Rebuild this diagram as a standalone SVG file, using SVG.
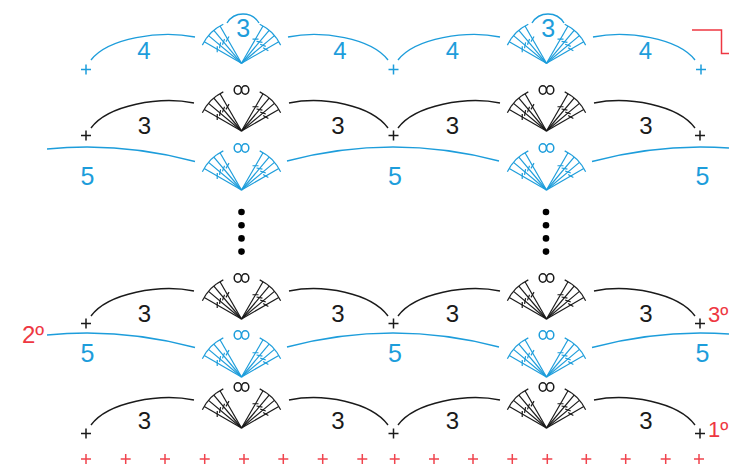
<svg xmlns="http://www.w3.org/2000/svg" xmlns:xlink="http://www.w3.org/1999/xlink" width="729" height="467" viewBox="0 0 729 467">
<style>
.blue{stroke:#1d9ddb;fill:#1d9ddb;color:#1d9ddb}
.black{stroke:#1a1a1a;fill:#1a1a1a;color:#1a1a1a}
.st{fill:none;stroke-width:1.2}
.arc{fill:none;stroke-width:1.4}
.ch{fill:none;stroke-width:1.5}
.pl{fill:none;stroke-width:1.5}
.redpl{fill:none;stroke:#f0444e;stroke-width:1.5}
.num{font-family:"Liberation Sans",Arial,sans-serif;font-size:24px;text-anchor:middle;stroke:none}
.red{font-family:"Liberation Sans",Arial,sans-serif;font-size:22px;fill:#ee3742;stroke:none}
.dot{fill:#000;stroke:none}
</style>
<defs>
<g id="dc">
<line x1="0" y1="0" x2="0" y2="-43"/>
<line x1="-3.8" y1="-43" x2="3.8" y2="-43"/>
<line x1="-2.6" y1="-26.5" x2="2.6" y2="-29.5"/>
</g>
<g id="fan" class="st">
<use href="#dc" transform="rotate(-60)"/>
<use href="#dc" transform="rotate(-50)"/>
<use href="#dc" transform="rotate(-40)"/>
<use href="#dc" transform="rotate(-30)"/>
<use href="#dc" transform="rotate(30)"/>
<use href="#dc" transform="rotate(40)"/>
<use href="#dc" transform="rotate(50)"/>
<use href="#dc" transform="rotate(60)"/>
</g>
<g id="ch2" class="ch">
<ellipse cx="-3.7" cy="0" rx="3.6" ry="4.2"/>
<ellipse cx="3.7" cy="0" rx="3.6" ry="4.2"/>
</g>
<path id="plus" d="M-5,0H5M0,-5V5"/>
</defs>

<g id="connectors">
<g class="blue arc">
<path d="M91,60 C108,38 160,30 195,37"/>
<path d="M288,37 C322,30 371,38 388,60"/>
<path d="M398,60 C415,38 467,30 500,37"/>
<path d="M593,37 C627,30 678,38 695,60"/>
</g>
<g class="black arc">
<path d="M91,128 C108,105 160,96 194,103"/>
<path d="M289,103 C323,96 371,105 388,128"/>
<path d="M398,128 C415,105 467,96 500,103"/>
<path d="M594,103 C628,96 678,105 695,128"/>
</g>
<g class="blue arc">
<path d="M47,149 Q121,141.6 195,161.5"/>
<path d="M287,161 Q393,133 499,161"/>
<path d="M592,161.5 Q660.5,143.1 729,148"/>
</g>
<g class="black arc" transform="translate(0,188)">
<path d="M91,128 C108,105 160,96 194,103"/>
<path d="M289,103 C323,96 371,105 388,128"/>
<path d="M398,128 C415,105 467,96 500,103"/>
<path d="M594,103 C628,96 678,105 695,128"/>
</g>
<g class="blue arc" transform="translate(0,186)">
<path d="M47,149 Q121,141.6 195,161.5"/>
<path d="M287,161 Q393,133 499,161"/>
<path d="M592,161.5 Q660.5,143.1 729,148"/>
</g>
<g class="black arc" transform="translate(0,297)">
<path d="M91,128 C108,105 160,96 194,103"/>
<path d="M289,103 C323,96 371,105 388,128"/>
<path d="M398,128 C415,105 467,96 500,103"/>
<path d="M594,103 C628,96 678,105 695,128"/>
</g>
</g>

<!-- Row top blue -->
<g id="row-top" class="blue">
<use href="#plus" x="86" y="69.5" class="pl"/>
<use href="#plus" x="393.5" y="69.5" class="pl"/>
<use href="#plus" x="701" y="69.5" class="pl"/>
<g id="fan-top-1" transform="translate(241.5,63.3)">
<use href="#fan"/>
<path class="arc" d="M-14.5,-40.3 A18.7,18.7 0 0 1 17.5,-40.3"/>
<text class="num" x="1.8" y="-26.3" style="font-size:25px">3</text>
</g>
<g id="fan-top-2" transform="translate(546.5,63.3)">
<use href="#fan"/>
<path class="arc" d="M-14.5,-40.3 A18.7,18.7 0 0 1 17.5,-40.3"/>
<text class="num" x="1.8" y="-26.3" style="font-size:25px">3</text>
</g>
<text class="num" x="144" y="59">4</text>
<text class="num" x="340" y="59">4</text>
<text class="num" x="452.5" y="59">4</text>
<text class="num" x="645.5" y="59">4</text>
</g>

<!-- Row B black -->
<g id="row-b" class="black">
<use href="#plus" x="86" y="135.5" class="pl"/>
<use href="#plus" x="393.5" y="135.5" class="pl"/>
<use href="#plus" x="700" y="135.5" class="pl"/>
<g id="fan-b-1" transform="translate(241.5,131)"><use href="#fan"/><use href="#ch2" y="-41"/></g>
<g id="fan-b-2" transform="translate(546.5,131)"><use href="#fan"/><use href="#ch2" y="-41"/></g>
<text class="num" x="144.5" y="133.5">3</text>
<text class="num" x="338" y="133.5">3</text>
<text class="num" x="452.5" y="133.5">3</text>
<text class="num" x="646" y="133.5">3</text>
</g>

<!-- Row C blue -->
<g id="row-c" class="blue">
<g id="fan-c-1" transform="translate(241.5,190)"><use href="#fan"/><use href="#ch2" y="-42"/></g>
<g id="fan-c-2" transform="translate(546.5,190)"><use href="#fan"/><use href="#ch2" y="-42"/></g>
<text class="num" x="87.5" y="185" style="font-size:25px">5</text>
<text class="num" x="395" y="185" style="font-size:25px">5</text>
<text class="num" x="702.5" y="185" style="font-size:25px">5</text>
</g>

<g id="ellipsis-1">
<circle class="dot" cx="241.5" cy="212" r="3.3"/>
<circle class="dot" cx="241.5" cy="225.2" r="3.3"/>
<circle class="dot" cx="241.5" cy="238.4" r="3.3"/>
<circle class="dot" cx="241.5" cy="251.6" r="3.3"/>
</g>
<g id="ellipsis-2">
<circle class="dot" cx="546" cy="212" r="3.3"/>
<circle class="dot" cx="546" cy="225.2" r="3.3"/>
<circle class="dot" cx="546" cy="238.4" r="3.3"/>
<circle class="dot" cx="546" cy="251.6" r="3.3"/>
</g>

<!-- Row D black -->
<g id="row-d" class="black">
<use href="#plus" x="86" y="323.5" class="pl"/>
<use href="#plus" x="393.5" y="323.5" class="pl"/>
<use href="#plus" x="700" y="323.5" class="pl"/>
<g id="fan-d-1" transform="translate(241.5,319)"><use href="#fan"/><use href="#ch2" y="-41"/></g>
<g id="fan-d-2" transform="translate(546.5,319)"><use href="#fan"/><use href="#ch2" y="-41"/></g>
<text class="num" x="144.5" y="321.5">3</text>
<text class="num" x="338" y="321.5">3</text>
<text class="num" x="452.5" y="321.5">3</text>
<text class="num" x="646" y="321.5">3</text>
</g>

<!-- Row E blue -->
<g id="row-e" class="blue">
<g id="fan-e-1" transform="translate(241.5,377)"><use href="#fan"/><use href="#ch2" y="-42"/></g>
<g id="fan-e-2" transform="translate(546.5,377)"><use href="#fan"/><use href="#ch2" y="-42"/></g>
<text class="num" x="87.5" y="362" style="font-size:25px">5</text>
<text class="num" x="395" y="362" style="font-size:25px">5</text>
<text class="num" x="702.5" y="362" style="font-size:25px">5</text>
</g>

<!-- Row F black -->
<g id="row-f" class="black">
<use href="#plus" x="86" y="433.5" class="pl"/>
<use href="#plus" x="393.5" y="433.5" class="pl"/>
<use href="#plus" x="700" y="433.5" class="pl"/>
<g id="fan-f-1" transform="translate(241.5,428)"><use href="#fan"/><use href="#ch2" y="-41"/></g>
<g id="fan-f-2" transform="translate(546.5,428)"><use href="#fan"/><use href="#ch2" y="-41"/></g>
<text class="num" x="144.5" y="428.5">3</text>
<text class="num" x="338" y="428.5">3</text>
<text class="num" x="452.5" y="428.5">3</text>
<text class="num" x="646" y="428.5">3</text>
</g>

<!-- Foundation row -->
<g id="foundation" class="redpl">
<use href="#plus" x="86" y="459"/>
<use href="#plus" x="125.7" y="459"/>
<use href="#plus" x="165" y="459"/>
<use href="#plus" x="204.7" y="459"/>
<use href="#plus" x="244" y="459"/>
<use href="#plus" x="283.3" y="459"/>
<use href="#plus" x="322.7" y="459"/>
<use href="#plus" x="362.3" y="459"/>
<use href="#plus" x="394.7" y="459"/>
<use href="#plus" x="434" y="459"/>
<use href="#plus" x="473" y="459"/>
<use href="#plus" x="512.3" y="459"/>
<use href="#plus" x="547.3" y="459"/>
<use href="#plus" x="586.3" y="459"/>
<use href="#plus" x="625.7" y="459"/>
<use href="#plus" x="665.7" y="459"/>
<use href="#plus" x="699" y="459"/>
</g>

<g id="labels">
<text class="red" x="22" y="343" style="font-size:24px">2º</text>
<text class="red" x="708" y="322">3º</text>
<text class="red" x="708" y="437">1º</text>
<path d="M692,30 H721.5 V53.5 H729" fill="none" stroke="#ee3742" stroke-width="1.5"/>
</g>
</svg>
